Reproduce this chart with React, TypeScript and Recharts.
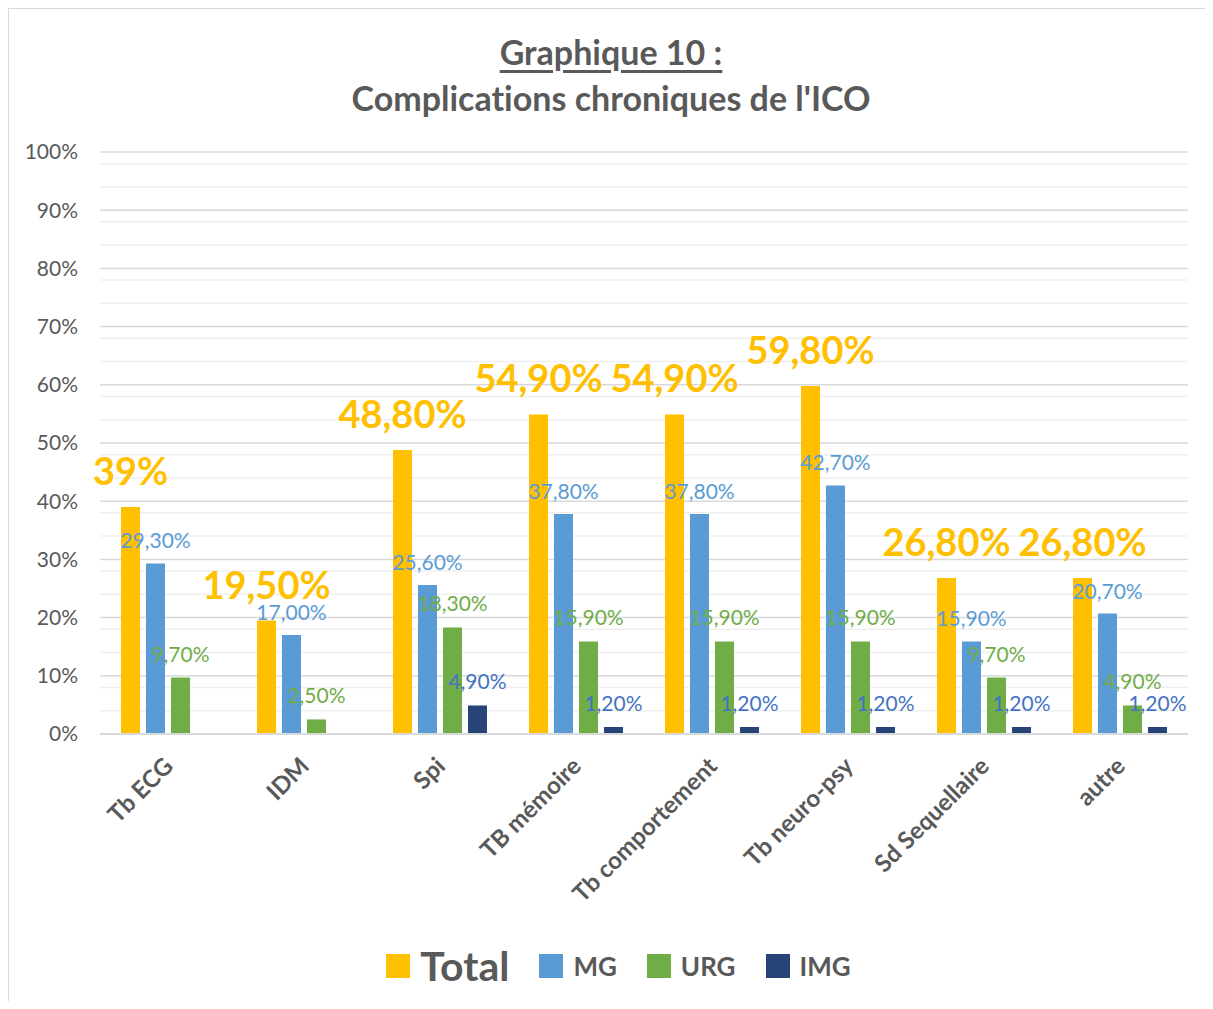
import { BarChart, Bar, XAxis, YAxis, CartesianGrid, Legend, LabelList } from "recharts";

const categories = ["Tb ECG", "IDM", "Spi", "TB mémoire", "Tb comportement", "Tb neuro-psy", "Sd Sequellaire", "autre"];
const total = [39, 19.5, 48.8, 54.9, 54.9, 59.8, 26.8, 26.8];
const totalLabels = ["39%", "19,50%", "48,80%", "54,90%", "54,90%", "59,80%", "26,80%", "26,80%"];
const mg = [29.3, 17.0, 25.6, 37.8, 37.8, 42.7, 15.9, 20.7];
const urg = [9.7, 2.5, 18.3, 15.9, 15.9, 15.9, 9.7, 4.9];
const img = [null, null, 4.9, 1.2, 1.2, 1.2, 1.2, 1.2];
const yTicks = [0, 10, 20, 30, 40, 50, 60, 70, 80, 90, 100];
const minorLines = [2, 4, 6, 8, 12, 14, 16, 18, 22, 24, 26, 28, 32, 34, 36, 38, 42, 44, 46, 48, 52, 54, 56, 58, 62, 64, 66, 68, 72, 74, 76, 78, 82, 84, 86, 88, 92, 94, 96, 98];

const data = categories.map((name, i) => ({
  name,
  Total: total[i],
  TotalLabel: totalLabels[i],
  MG: mg[i],
  URG: urg[i],
  IMG: img[i],
}));

const FONT = "Lato, 'Open Sans', sans-serif";
const GREY = "#595959";

const legendItems = [
  { name: "Total", color: "#FFC000", size: 41 },
  { name: "MG", color: "#5B9BD5", size: 26 },
  { name: "URG", color: "#70AD47", size: 26 },
  { name: "IMG", color: "#264478", size: 26 },
];

const fmt = (v: any) => (v == null ? "" : Number(v).toFixed(2).replace(".", ",") + "%");

function XTick(props: any) {
  const { x, y, payload } = props;
  return (
    <g transform={`translate(${x + 1},${y + 20})`}>
      <text
        x={0}
        y={0}
        dy={8}
        textAnchor="end"
        transform="rotate(-45)"
        fill={GREY}
        fontSize={24}
        fontWeight={700}
        fontFamily={FONT}
      >
        {payload.value}
      </text>
    </g>
  );
}

function LegendBox() {
  return (
    <div style={{ display: "flex", justifyContent: "center", alignItems: "center", fontFamily: FONT }}>
      {legendItems.map((it, i) => (
        <div key={it.name} style={{ display: "flex", alignItems: "center", marginRight: i < legendItems.length - 1 ? 30 : 0 }}>
          <span style={{ width: 24, height: 24, background: it.color, display: "inline-block", marginRight: 10 }} />
          <span style={{ color: GREY, fontSize: it.size, fontWeight: 700, lineHeight: "48px" }}>{it.name}</span>
        </div>
      ))}
    </div>
  );
}

export default function App() {
  return (
    <div
      style={{
        position: "relative",
        width: 1204,
        height: 992,
        borderTop: "1px solid #d9d9d9",
        borderLeft: "1px solid #d9d9d9",
        background: "#fff",
        fontFamily: FONT,
      }}
    >
      <div
        style={{
          position: "absolute",
          top: 20,
          left: 0,
          width: 1204,
          textAlign: "center",
          color: GREY,
          fontWeight: 700,
          fontSize: 34,
          lineHeight: "46px",
          fontVariantLigatures: "none",
        }}
      >
        <div style={{ textDecoration: "underline", textDecorationThickness: 3, textUnderlineOffset: 5 }}>Graphique 10 :</div>
        <div>Complications chroniques de l'ICO</div>
      </div>
      <div style={{ position: "absolute", top: 0, left: 0 }}>
        <BarChart
          width={1195}
          height={985}
          data={data}
          margin={{ top: 143, right: 16, left: 0, bottom: 60 }}
          barSize={19}
          barGap={6}
        >
          <CartesianGrid vertical={false} horizontalValues={minorLines} stroke="#efefef" strokeWidth={1.5} />
          <CartesianGrid vertical={false} horizontalValues={yTicks} stroke="#d9d9d9" strokeWidth={1.5} />
          <XAxis
            dataKey="name"
            height={200}
            interval={0}
            tick={<XTick />}
            tickLine={false}
            axisLine={{ stroke: "#d9d9d9", strokeWidth: 2 }}
          />
          <YAxis
            width={91}
            domain={[0, 100]}
            ticks={yTicks}
            tickFormatter={(v) => `${v}%`}
            axisLine={false}
            tickLine={false}
            tickSize={0}
            tickMargin={22}
            tick={{ fill: GREY, fontSize: 21, fontFamily: FONT }}
          />
          <Legend
            verticalAlign="middle"
            layout="horizontal"
            wrapperStyle={{ top: 933, left: 12, width: 1195 }}
            content={<LegendBox />}
          />
          <Bar dataKey="Total" fill="#FFC000" isAnimationActive={false}>
            <LabelList dataKey="TotalLabel" position="top" offset={22} fill="#FFC000" fontSize={38} fontWeight={700} fontFamily={FONT} />
          </Bar>
          <Bar dataKey="MG" fill="#5B9BD5" isAnimationActive={false}>
            <LabelList dataKey="MG" position="top" offset={15} formatter={fmt} fill="#5B9BD5" fontSize={21} fontFamily={FONT} />
          </Bar>
          <Bar dataKey="URG" fill="#70AD47" isAnimationActive={false}>
            <LabelList dataKey="URG" position="top" offset={16} formatter={fmt} fill="#70AD47" fontSize={21} fontFamily={FONT} />
          </Bar>
          <Bar dataKey="IMG" fill="#264478" isAnimationActive={false}>
            <LabelList dataKey="IMG" position="top" offset={16} formatter={fmt} fill="#4472C4" fontSize={21} fontFamily={FONT} />
          </Bar>
        </BarChart>
      </div>
    </div>
  );
}
